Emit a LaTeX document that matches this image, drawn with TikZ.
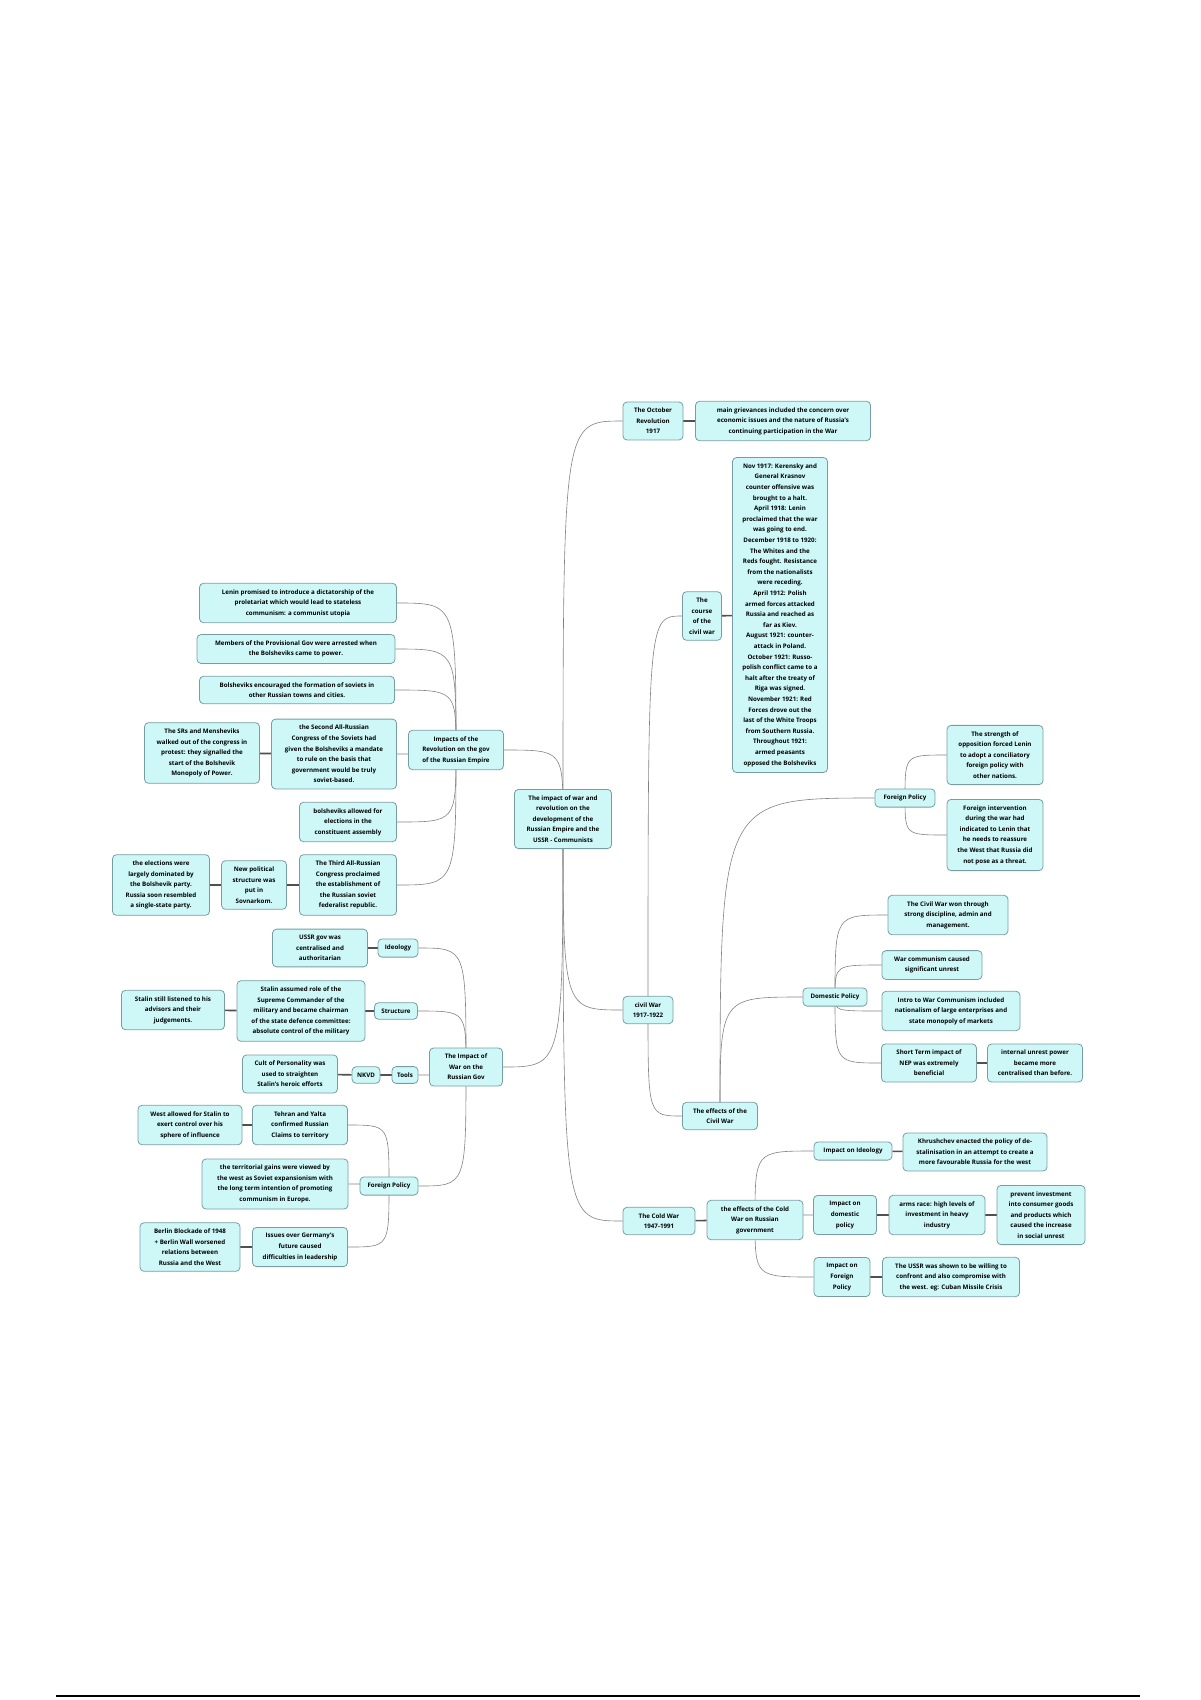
\documentclass[tikz,border=0pt]{standalone}
\usepackage{fontspec}
\setmainfont{Open Sans}
\usepackage{tikz}
\usetikzlibrary{backgrounds}
\usepackage{xcolor}
\definecolor{topicfill}{RGB}{206,248,248}
\definecolor{topicline}{RGB}{118,158,162}
\definecolor{curvegray}{RGB}{130,130,130}
\definecolor{joingray}{RGB}{80,80,80}
\tikzstyle{topic} = [draw=topicline, fill=topicfill, rounded corners=4pt, line width=0.8pt, align=center, inner xsep=3pt, inner ysep=6pt, font=\fontsize{6.2}{10.6}\selectfont\bfseries]
\tikzstyle{curveline} = [draw=curvegray, line width=0.6pt]
\tikzstyle{joinline} = [draw=joingray, line width=1.6pt]

\begin{document}
\begin{tikzpicture}[x=1pt, y=-1pt]
\useasboundingbox (0,0) rectangle (1200,1700);

% Central topic
\node[topic, minimum width=97] (root) at (563,819) {The impact of war and\\revolution on the\\development of the\\Russian Empire and the\\USSR - Communists};

% October Revolution
\node[topic, minimum width=60] (oct) at (653,421) {The October\\Revolution\\1917};
\node[topic, minimum width=175] (grievances) at (783,421) {main grievances included the concern over\\economic issues and the nature of Russia's\\continuing participation in the War};

% Civil War
\node[topic, minimum width=50] (civil) at (648,1010) {civil War\\1917-1922};
\node[topic, minimum width=39] (course) at (702,616) {The\\course\\of the\\civil war};
\node[topic, minimum width=95] (coursetext) at (780,615) {Nov 1917: Kerensky and\\General Krasnov\\counter offensive was\\brought to a halt.\\April 1918: Lenin\\proclaimed that the war\\was going to end.\\December 1918 to 1920:\\The Whites and the\\Reds fought. Resistance\\from the nationalists\\were receding.\\April 1912: Polish\\armed forces attacked\\Russia and reached as\\far as Kiev.\\August 1921: counter-\\attack in Poland.\\October 1921: Russo-\\polish conflict came to a\\halt after the treaty of\\Riga was signed.\\November 1921: Red\\Forces drove out the\\last of the White Troops\\from Southern Russia.\\Throughout 1921:\\armed peasants\\opposed the Bolsheviks};
\node[topic, minimum width=75] (civilfx) at (720,1116) {The effects of the\\Civil War};

\node[topic, minimum width=60] (fpright) at (905,798) {Foreign Policy};
\node[topic, minimum width=96] (strength) at (995,755) {The strength of\\opposition forced Lenin\\to adopt a conciliatory\\foreign policy with\\other nations.};
\node[topic, minimum width=96] (intervention) at (995,835) {Foreign intervention\\during the war had\\indicated to Lenin that\\he needs to reassure\\the West that Russia did\\not pose as a threat.};

\node[topic, minimum width=64] (domestic) at (835,997) {Domestic Policy};
\node[topic, minimum width=120] (won) at (948,915) {The Civil War won through\\strong discipline, admin and\\management.};
\node[topic, minimum width=100] (warcomm) at (932,965) {War communism caused\\significant unrest};
\node[topic, minimum width=138] (intro) at (951,1011) {Intro to War Communism included\\nationalism of large enterprises and\\state monopoly of markets};
\node[topic, minimum width=95] (nep) at (929,1063) {Short Term impact of\\NEP was extremely\\beneficial};
\node[topic, minimum width=95] (unrest) at (1035,1063) {internal  unrest power\\became more\\centralised than before.};

% Cold War
\node[topic, minimum width=72] (cold) at (659,1221) {The Cold War\\1947-1991};
\node[topic, minimum width=96] (coldfx) at (755,1220) {the effects of the Cold\\War on Russian\\government};
\node[topic, minimum width=78] (ideoimpact) at (853,1151) {Impact on Ideology};
\node[topic, minimum width=144] (khrushchev) at (975,1152) {Khrushchev enacted the policy of de-\\stalinisation in an attempt to create a\\more favourable Russia for the west};
\node[topic, minimum width=63] (domimpact) at (845,1215) {Impact on\\domestic\\policy};
\node[topic, minimum width=96] (arms) at (937,1215) {arms race: high levels of\\investment in heavy\\industry};
\node[topic, minimum width=88] (prevent) at (1041,1215) {prevent investment\\into consumer goods\\and products which\\caused the increase\\in social unrest};
\node[topic, minimum width=56] (forimpact) at (842,1277) {Impact on\\Foreign\\Policy};
\node[topic, minimum width=137] (ussr) at (951,1277) {The USSR was shown to be willing to\\confront and also compromise with\\the west. eg: Cuban Missile Crisis};

% Impacts of the Revolution
\node[topic, minimum width=95] (revgov) at (456,750) {Impacts of the\\Revolution on the gov\\of the Russian Empire};
\node[topic, minimum width=197] (lenin) at (298,603) {Lenin promised to introduce a dictatorship of the\\proletariat which would lead to stateless\\communism: a communist utopia};
\node[topic, minimum width=198] (members) at (296,649) {Members of the Provisional Gov were arrested when\\the Bolsheviks came to power.};
\node[topic, minimum width=195] (soviets) at (297,690) {Bolsheviks encouraged the formation of soviets in\\other Russian towns and cities.};
\node[topic, minimum width=125] (second) at (334,754) {the Second All-Russian\\Congress of the Soviets had\\given the Bolsheviks a mandate\\to rule on the basis that\\government would be truly\\soviet-based.};
\node[topic, minimum width=115] (srs) at (202,753) {The SRs and Mensheviks\\walked out of the congress in\\protest: they signalled the\\start of the Bolshevik\\Monopoly of Power.};
\node[topic, minimum width=97] (allowed) at (348,822) {bolsheviks allowed for\\elections in the\\constituent assembly};
\node[topic, minimum width=97] (third) at (348,885) {The Third All-Russian\\Congress proclaimed\\the establishment of\\the Russian soviet\\federalist republic.};
\node[topic, minimum width=65] (newpol) at (254,885) {New political\\structure was\\put in\\Sovnarkom.};
\node[topic, minimum width=97] (elections) at (161,885) {the elections were\\largely dominated by\\the Bolshevik party.\\Russia soon resembled\\a single-state party.};

% Impact of War on the Russian Gov
\node[topic, minimum width=73] (wargov) at (466,1067) {The Impact of\\War on the\\Russian Gov};
\node[topic, minimum width=40] (ideology) at (398,948) {Ideology};
\node[topic, minimum width=95] (ussrgov) at (320,948) {USSR gov was\\centralised and\\authoritarian};
\node[topic, minimum width=43] (structure) at (396,1011) {Structure};
\node[topic, minimum width=128] (stalin) at (301,1011) {Stalin assumed role of the\\Supreme Commander of the\\military and became chairman\\of the state defence committee:\\absolute control of the military};
\node[topic, minimum width=103] (advisors) at (173,1010) {Stalin still listened to his\\advisors and their\\judgements.};
\node[topic, minimum width=26] (tools) at (405,1075) {Tools};
\node[topic, minimum width=28] (nkvd) at (366,1075) {NKVD};
\node[topic, minimum width=95] (cult) at (290,1074) {Cult of Personality was\\used to straighten\\Stalin's heroic efforts};
\node[topic, minimum width=58] (fpleft) at (389,1186) {Foreign Policy};
\node[topic, minimum width=95] (tehran) at (300,1125) {Tehran and Yalta\\confirmed Russian\\Claims to territory};
\node[topic, minimum width=104] (west) at (190,1125) {West allowed for Stalin to\\exert control over his\\sphere of influence};
\node[topic, minimum width=146] (gains) at (275,1184) {the territorial gains were viewed by\\the west as Soviet expansionism with\\the long term intention of promoting\\communism in Europe.};
\node[topic, minimum width=95] (germany) at (300,1247) {Issues over Germany's\\future caused\\difficulties in leadership};
\node[topic, minimum width=100] (berlin) at (190,1247) {Berlin Blockade of 1948\\+ Berlin Wall worsened\\relations between\\Russia and the West};

% Connectors
\begin{pgfonlayer}{background}
\draw[curveline] (root.center) .. controls (root.center |- oct.west) .. (oct.west);
\draw[curveline] (root.center) .. controls (root.center |- civil.west) .. (civil.west);
\draw[curveline] (root.center) .. controls (root.center |- cold.west) .. (cold.west);
\draw[curveline] (root.center) .. controls (root.center |- revgov.east) .. (revgov.east);
\draw[curveline] (root.center) .. controls (root.center |- wargov.east) .. (wargov.east);

\draw[joinline] (oct) -- (grievances);
\draw[curveline] (civil.center) .. controls (civil.center |- course.west) .. (course.west);
\draw[curveline] (civil.center) .. controls (civil.center |- civilfx.west) .. (civilfx.west);
\draw[joinline] (course) -- (coursetext);

\draw[curveline] (civilfx.center) .. controls (civilfx.center |- fpright.west) .. (fpright.west);
\draw[curveline] (civilfx.center) .. controls (civilfx.center |- domestic.west) .. (domestic.west);
\draw[curveline] (fpright.center) .. controls (fpright.center |- strength.west) .. (strength.west);
\draw[curveline] (fpright.center) .. controls (fpright.center |- intervention.west) .. (intervention.west);
\draw[curveline] (domestic.center) .. controls (domestic.center |- won.west) .. (won.west);
\draw[curveline] (domestic.center) .. controls (domestic.center |- warcomm.west) .. (warcomm.west);
\draw[curveline] (domestic.center) .. controls (domestic.center |- intro.west) .. (intro.west);
\draw[curveline] (domestic.center) .. controls (domestic.center |- nep.west) .. (nep.west);
\draw[joinline] (nep) -- (unrest);

\draw[joinline] (cold) -- (coldfx);
\draw[curveline] (coldfx.center) .. controls (coldfx.center |- ideoimpact.west) .. (ideoimpact.west);
\draw[curveline] (coldfx.center) .. controls (coldfx.center |- domimpact.west) .. (domimpact.west);
\draw[curveline] (coldfx.center) .. controls (coldfx.center |- forimpact.west) .. (forimpact.west);
\draw[joinline] (ideoimpact) -- (khrushchev);
\draw[joinline] (domimpact) -- (arms);
\draw[joinline] (arms) -- (prevent);
\draw[joinline] (forimpact) -- (ussr);

\draw[curveline] (revgov.center) .. controls (revgov.center |- lenin.east) .. (lenin.east);
\draw[curveline] (revgov.center) .. controls (revgov.center |- members.east) .. (members.east);
\draw[curveline] (revgov.center) .. controls (revgov.center |- soviets.east) .. (soviets.east);
\draw[curveline] (revgov.center) .. controls (revgov.center |- second.east) .. (second.east);
\draw[curveline] (revgov.center) .. controls (revgov.center |- allowed.east) .. (allowed.east);
\draw[curveline] (revgov.center) .. controls (revgov.center |- third.east) .. (third.east);
\draw[joinline] (second) -- (srs);
\draw[joinline] (third) -- (newpol);
\draw[joinline] (newpol) -- (elections);

\draw[curveline] (wargov.center) .. controls (wargov.center |- ideology.east) .. (ideology.east);
\draw[curveline] (wargov.center) .. controls (wargov.center |- structure.east) .. (structure.east);
\draw[curveline] (wargov.center) .. controls (wargov.center |- tools.east) .. (tools.east);
\draw[curveline] (wargov.center) .. controls (wargov.center |- fpleft.east) .. (fpleft.east);
\draw[joinline] (ideology) -- (ussrgov);
\draw[joinline] (structure) -- (stalin);
\draw[joinline] (stalin) -- (advisors);
\draw[joinline] (tools) -- (nkvd);
\draw[joinline] (nkvd) -- (cult);
\draw[curveline] (fpleft.center) .. controls (fpleft.center |- tehran.east) .. (tehran.east);
\draw[curveline] (fpleft.center) .. controls (fpleft.center |- gains.east) .. (gains.east);
\draw[curveline] (fpleft.center) .. controls (fpleft.center |- germany.east) .. (germany.east);
\draw[joinline] (tehran) -- (west);
\draw[joinline] (germany) -- (berlin);
\end{pgfonlayer}

% Page rule
\draw[line width=1.2pt] (56,1696) -- (1140,1696);
\end{tikzpicture}
\end{document}
